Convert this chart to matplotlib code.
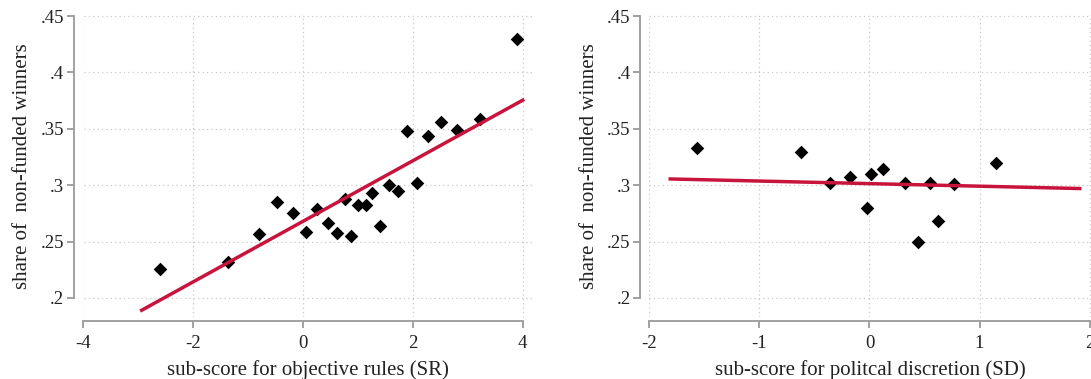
import matplotlib
matplotlib.use("Agg")
import matplotlib.pyplot as plt

# binned scatter: objective rules sub-score vs share of non-funded winners
sr_x = [-2.61, -1.36, -0.81, -0.48, -0.19, 0.05, 0.25, 0.45, 0.61, 0.76, 0.88, 1.00,
        1.14, 1.26, 1.41, 1.56, 1.72, 1.89, 2.08, 2.28, 2.52, 2.81, 3.22, 3.90]
sr_y = [0.2256, 0.2318, 0.2569, 0.2849, 0.2755, 0.2587, 0.2787, 0.2663, 0.2575, 0.2881,
        0.2548, 0.2820, 0.2820, 0.2929, 0.2634, 0.3000, 0.2949, 0.3483, 0.3020, 0.3433,
        0.3563, 0.3492, 0.3583, 0.4294]
sr_fit_x = [-2.94, 4.0]
sr_fit_y = [0.189, 0.3754]

# political discretion sub-score
sd_x = [-1.570, -0.619, -0.360, -0.174, -0.025, 0.013, 0.120, 0.319, 0.439, 0.553,
        0.622, 0.771, 1.150]
sd_y = [0.3333, 0.3291, 0.3020, 0.3070, 0.2799, 0.3100, 0.3144, 0.3017, 0.2495, 0.3020,
        0.2678, 0.3008, 0.3197]
sd_fit_x = [-1.81, 1.91]
sd_fit_y = [0.3055, 0.2970]

y_ticks = [0.2, 0.25, 0.3, 0.35, 0.4, 0.45]
y_ticklabels = [".2", ".25", ".3", ".35", ".4", ".45"]

plt.rcParams["font.family"] = ["Liberation Serif", "DejaVu Serif"]

W, H = 1091, 379
fig = plt.figure(figsize=(W / 100, H / 100), dpi=100)

gray = "#9a9a9a"
red = "#c8143c"


def panel(rect, x, y, fx, fy, xticks, xlim, xlabel, spine_off):
    ax = fig.add_axes(rect)
    ax.set_xlim(*xlim)
    ax.set_ylim(0.183, 0.451)
    ax.set_xticks(xticks)
    ax.set_xticklabels([str(t) for t in xticks])
    ax.set_yticks(y_ticks)
    ax.set_yticklabels(y_ticklabels)
    ax.grid(True, linestyle=(0, (1, 2.5)), color="#c8c8c8", linewidth=0.9)
    ax.set_axisbelow(True)
    for s in ("top", "right"):
        ax.spines[s].set_visible(False)
    ax.spines["left"].set_position(("outward", spine_off))
    ax.spines["bottom"].set_position(("outward", 3))
    ax.spines["left"].set_bounds(0.2, 0.45)
    ax.spines["bottom"].set_bounds(xticks[0], xticks[-1])
    for s in ("left", "bottom"):
        ax.spines[s].set_color(gray)
        ax.spines[s].set_linewidth(1.3)
    ax.tick_params(colors=gray, width=1.3, length=5, labelsize=13.5,
                   labelcolor="#222222")
    ax.tick_params(axis="y", pad=2)
    ax.tick_params(axis="x", pad=5)
    ax.scatter(x, y, marker="D", s=48, color="black", zorder=3, linewidths=0)
    ax.plot(fx, fy, color=red, linewidth=2.5, zorder=4)
    ax.set_xlabel(xlabel, fontsize=15, color="#222222", labelpad=6)
    ax.set_ylabel("share of  non-funded winners", fontsize=15, color="#222222",
                  labelpad=6)
    return ax


panel([83.5 / W, 62 / H, 448.5 / W, 302 / H], sr_x, sr_y, sr_fit_x, sr_fit_y,
      [-4, -2, 0, 2, 4], (-4, 4.17), "sub-score for objective rules (SR)", 7.2)
panel([649.3 / W, 62 / H, (W - 649.3) / W, 302 / H], sd_x, sd_y, sd_fit_x, sd_fit_y,
      [-2, -1, 0, 1, 2], (-2, 2.012), "sub-score for politcal discretion (SD)", 6.5)

fig.savefig("out.png", dpi=100)
